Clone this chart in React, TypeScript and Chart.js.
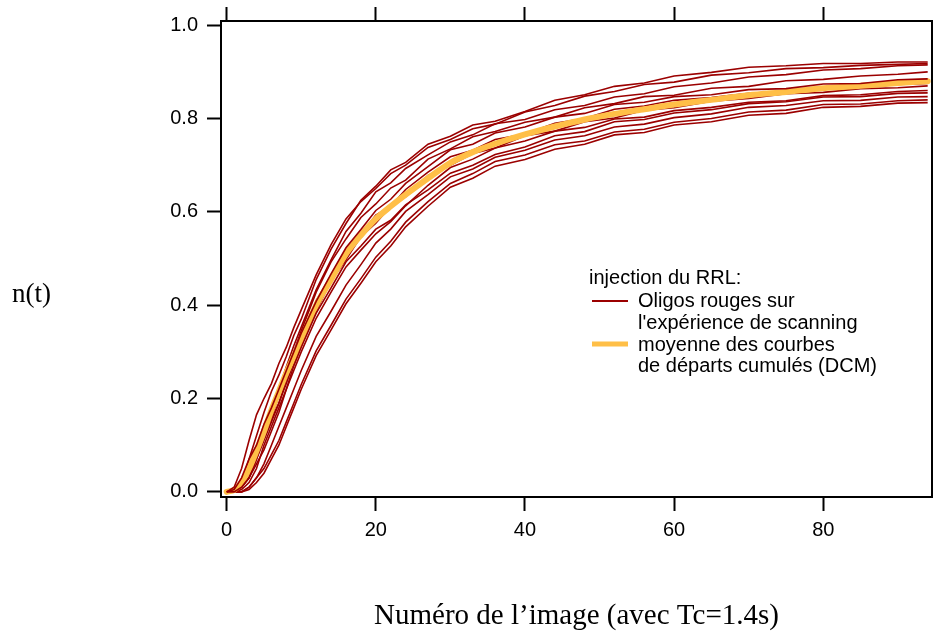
import React, { useEffect, useRef } from 'react';
import { Chart, registerables } from 'chart.js';

Chart.register(...registerables);

// Frame numbers (x values) at which curves are sampled
const FRAMES = [0, 1, 2, 3, 4, 5, 6, 7, 8, 9, 10, 12, 14, 16, 18, 20, 22, 24, 27, 30, 33, 36, 40, 44, 48, 52, 56, 60, 65, 70, 75, 80, 85, 90, 94];

// Individual red curves (Oligos rouges)
const curveA = [0, 0, 0.02, 0.07, 0.12, 0.17, 0.215, 0.25, 0.29, 0.335, 0.37, 0.455, 0.52, 0.575, 0.625, 0.655, 0.69, 0.706, 0.745, 0.762, 0.786, 0.794, 0.815, 0.839, 0.851, 0.869, 0.876, 0.891, 0.899, 0.91, 0.913, 0.918, 0.918, 0.921, 0.921];
const curveB = [0, 0.01, 0.05, 0.11, 0.165, 0.2, 0.232, 0.275, 0.31, 0.352, 0.39, 0.465, 0.53, 0.585, 0.622, 0.65, 0.682, 0.7, 0.738, 0.755, 0.778, 0.788, 0.814, 0.828, 0.848, 0.858, 0.873, 0.878, 0.893, 0.898, 0.907, 0.909, 0.914, 0.916, 0.918];
const curveC = [0, 0, 0.01, 0.04, 0.085, 0.13, 0.17, 0.22, 0.268, 0.313, 0.353, 0.433, 0.497, 0.558, 0.597, 0.643, 0.662, 0.693, 0.722, 0.75, 0.765, 0.789, 0.798, 0.819, 0.828, 0.846, 0.853, 0.868, 0.876, 0.889, 0.894, 0.904, 0.907, 0.913, 0.915];
const curveD = [0, 0, 0.01, 0.03, 0.07, 0.12, 0.16, 0.205, 0.25, 0.3, 0.345, 0.428, 0.493, 0.542, 0.588, 0.617, 0.651, 0.668, 0.713, 0.735, 0.761, 0.772, 0.792, 0.803, 0.823, 0.832, 0.847, 0.85, 0.865, 0.869, 0.881, 0.884, 0.891, 0.895, 0.9];
const curveE = [0, 0.005, 0.03, 0.07, 0.1, 0.145, 0.18, 0.22, 0.26, 0.3, 0.34, 0.408, 0.467, 0.523, 0.562, 0.603, 0.627, 0.661, 0.697, 0.733, 0.745, 0.769, 0.782, 0.803, 0.811, 0.83, 0.835, 0.847, 0.851, 0.862, 0.864, 0.874, 0.875, 0.883, 0.885];
const curveF = [0, 0, 0.01, 0.03, 0.07, 0.11, 0.15, 0.19, 0.24, 0.29, 0.33, 0.41, 0.462, 0.513, 0.552, 0.593, 0.612, 0.648, 0.685, 0.718, 0.732, 0.755, 0.767, 0.79, 0.8, 0.82, 0.827, 0.839, 0.845, 0.854, 0.856, 0.866, 0.867, 0.873, 0.875];
const curveG = [0, 0, 0.02, 0.05, 0.08, 0.12, 0.155, 0.19, 0.232, 0.278, 0.322, 0.388, 0.452, 0.498, 0.547, 0.576, 0.612, 0.632, 0.678, 0.7, 0.725, 0.737, 0.763, 0.773, 0.793, 0.801, 0.818, 0.823, 0.837, 0.843, 0.853, 0.856, 0.864, 0.866, 0.87];
const curveH = [0, 0, 0.005, 0.02, 0.05, 0.1, 0.14, 0.18, 0.22, 0.26, 0.3, 0.372, 0.428, 0.482, 0.518, 0.553, 0.579, 0.613, 0.657, 0.695, 0.713, 0.737, 0.752, 0.773, 0.781, 0.799, 0.803, 0.817, 0.824, 0.835, 0.838, 0.849, 0.851, 0.858, 0.86];
const curveI = [0, 0, 0.01, 0.03, 0.06, 0.09, 0.13, 0.17, 0.22, 0.27, 0.31, 0.383, 0.437, 0.493, 0.527, 0.563, 0.582, 0.615, 0.647, 0.683, 0.7, 0.723, 0.739, 0.763, 0.772, 0.793, 0.798, 0.812, 0.819, 0.832, 0.836, 0.846, 0.847, 0.854, 0.855];
const curveJ = [0, 0, 0, 0.01, 0.03, 0.06, 0.1, 0.14, 0.18, 0.22, 0.26, 0.333, 0.387, 0.443, 0.487, 0.533, 0.563, 0.601, 0.637, 0.675, 0.692, 0.717, 0.732, 0.754, 0.763, 0.782, 0.788, 0.802, 0.81, 0.824, 0.828, 0.838, 0.839, 0.846, 0.847];
const curveK = [0, 0, 0, 0.01, 0.03, 0.05, 0.08, 0.11, 0.15, 0.19, 0.23, 0.302, 0.357, 0.413, 0.457, 0.503, 0.537, 0.578, 0.622, 0.661, 0.682, 0.708, 0.722, 0.744, 0.752, 0.771, 0.777, 0.792, 0.8, 0.814, 0.818, 0.83, 0.831, 0.838, 0.84];
const curveL = [0, 0, 0, 0.005, 0.02, 0.04, 0.07, 0.1, 0.14, 0.18, 0.22, 0.292, 0.347, 0.403, 0.447, 0.493, 0.527, 0.568, 0.612, 0.653, 0.672, 0.698, 0.712, 0.734, 0.745, 0.765, 0.77, 0.786, 0.793, 0.807, 0.811, 0.824, 0.826, 0.833, 0.834];

// Mean curve (DCM)
const meanCurve = [0, 0.004, 0.02, 0.05, 0.088, 0.13, 0.175, 0.215, 0.255, 0.29, 0.325, 0.4, 0.455, 0.51, 0.55, 0.585, 0.612, 0.637, 0.672, 0.705, 0.728, 0.746, 0.766, 0.783, 0.798, 0.81, 0.82, 0.83, 0.84, 0.85, 0.857, 0.865, 0.87, 0.876, 0.88];

const xTickValues = [0, 20, 40, 60, 80];
const yTickValues = [0, 0.2, 0.4, 0.6, 0.8, 1.0];

const xTitle = 'Numéro de l’image (avec Tc=1.4s)';
const yTitle = 'n(t)';
const legendTitle = 'injection du RRL:';
const legendRedLines = ['Oligos rouges sur', "l'expérience de scanning"];
const legendMeanLines = ['moyenne des courbes', 'de départs cumulés (DCM)'];

const RED = '#9b0000';
const ORANGE = '#ffbf47';
const SANS = '"Liberation Sans", Arial, sans-serif';
const SERIF = '"Liberation Serif", "Times New Roman", serif';

const X_MIN = -0.76;
const X_MAX = 94.58;
const Y_MIN = -0.011;
const Y_MAX = 1.009;

export default function App() {
  const ref = useRef<HTMLCanvasElement>(null);

  useEffect(() => {
    const canvas = ref.current;
    if (!canvas) return;
    const reds = [curveA, curveB, curveC, curveD, curveE, curveF, curveG, curveH, curveI, curveJ, curveK, curveL];
    const aboveMean = [1, 4, 8];
    const toPts = (arr: number[]) => FRAMES.map((x, i) => ({ x, y: arr[i] }));
    const datasets: any[] = reds.map((c, i) => ({
      label: 'Oligos rouges',
      data: toPts(c),
      borderColor: RED,
      borderWidth: 1.6,
      pointRadius: 0,
      fill: false,
      tension: 0,
      order: aboveMean.includes(i) ? 0 : 2,
    }));
    datasets.push({
      label: 'moyenne',
      data: toPts(meanCurve),
      borderColor: ORANGE,
      borderWidth: 6,
      borderCapStyle: 'round',
      borderJoinStyle: 'round',
      pointRadius: 0,
      fill: false,
      tension: 0.3,
      order: 1,
    });

    const annotPlugin = {
      id: 'annot',
      afterDraw(chart: any) {
        const ctx = chart.ctx;
        ctx.save();
        ctx.fillStyle = '#000';
        ctx.textBaseline = 'alphabetic';
        ctx.textAlign = 'left';
        // y label
        ctx.font = `27px ${SERIF}`;
        ctx.fillText(yTitle, 12, 302);
        // legend
        ctx.font = `20px ${SANS}`;
        ctx.fillText(legendTitle, 589, 284);
        ctx.lineCap = 'butt';
        ctx.strokeStyle = RED;
        ctx.lineWidth = 2;
        ctx.beginPath();
        ctx.moveTo(592, 301);
        ctx.lineTo(628, 301);
        ctx.stroke();
        ctx.fillText(legendRedLines[0], 638, 307);
        ctx.fillText(legendRedLines[1], 638, 329);
        ctx.strokeStyle = ORANGE;
        ctx.lineWidth = 5;
        ctx.beginPath();
        ctx.moveTo(592, 344);
        ctx.lineTo(628, 344);
        ctx.stroke();
        ctx.fillText(legendMeanLines[0], 638, 351);
        ctx.fillText(legendMeanLines[1], 638, 372);
        ctx.restore();
      },
    };

    const tickGrid = {
      display: true,
      drawOnChartArea: false,
      drawTicks: true,
      tickLength: 14,
      tickWidth: 2,
      tickColor: '#000',
    };
    const border = { display: true, color: '#000', width: 2 };

    const chart = new Chart(canvas, {
      type: 'line',
      data: { datasets },
      options: {
        animation: false,
        responsive: false,
        devicePixelRatio: 1,
        events: [],
        layout: { padding: { left: 0, right: 2, top: 0, bottom: 0 } },
        plugins: { legend: { display: false }, tooltip: { enabled: false } },
        scales: {
          x: {
            type: 'linear',
            axis: 'x',
            position: 'bottom',
            min: X_MIN,
            max: X_MAX,
            afterBuildTicks: (s: any) => { s.ticks = xTickValues.map((v) => ({ value: v })); },
            afterFit: (s: any) => { s.height = 143; },
            grid: tickGrid,
            border,
            ticks: { color: '#000', font: { family: SANS, size: 20 }, padding: 7, maxRotation: 0, autoSkip: false, callback: (v: any) => String(v) },
            title: { display: true, text: xTitle, color: '#000', font: { family: SERIF, size: 29 }, padding: { top: 0, bottom: 6 } },
          },
          x2: {
            type: 'linear',
            axis: 'x',
            position: 'top',
            min: X_MIN,
            max: X_MAX,
            afterBuildTicks: (s: any) => { s.ticks = xTickValues.map((v) => ({ value: v })); },
            afterFit: (s: any) => { s.height = 19; },
            grid: tickGrid,
            border,
            ticks: { display: false },
          },
          y: {
            type: 'linear',
            axis: 'y',
            position: 'left',
            min: Y_MIN,
            max: Y_MAX,
            afterBuildTicks: (s: any) => { s.ticks = yTickValues.map((v) => ({ value: v })); },
            afterFit: (s: any) => { s.width = 221; },
            grid: tickGrid,
            border,
            ticks: { color: '#000', font: { family: SANS, size: 20 }, padding: 9, autoSkip: false, callback: (v: any) => Number(v).toFixed(1) },
          },
          y2: {
            type: 'linear',
            axis: 'y',
            position: 'right',
            min: Y_MIN,
            max: Y_MAX,
            afterFit: (s: any) => { s.width = 0; },
            grid: { display: false, drawTicks: false },
            border,
            ticks: { display: false },
          },
        },
      } as any,
      plugins: [annotPlugin],
    });
    return () => chart.destroy();
  }, []);

  return (
    <div style={{ position: 'fixed', left: 0, top: 0, width: 934, height: 640, background: '#fff' }}>
      <canvas ref={ref} width={934} height={640} style={{ display: 'block', width: 934, height: 640 }} />
    </div>
  );
}
